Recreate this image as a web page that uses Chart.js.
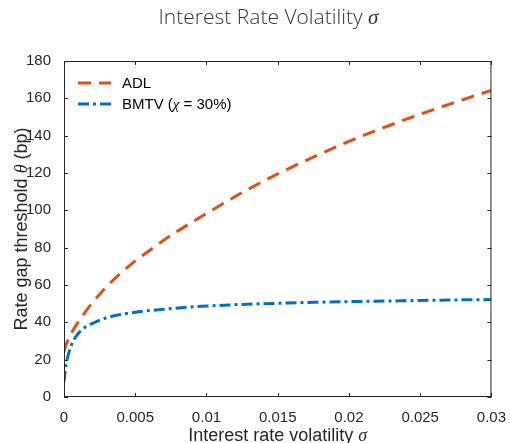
<!DOCTYPE html>
<html>
<head>
<meta charset="utf-8">
<script src="https://cdn.jsdelivr.net/npm/chart.js@4.4.0/dist/chart.umd.min.js"></script>
<style>
  html, body { margin: 0; padding: 0; background: #fff; }
  #wrap { width: 510px; height: 443px; }
</style>
</head>
<body>
<div id="wrap"><canvas id="grafico" width="510" height="443"></canvas></div>
<script>
// valores
const sigma = [0, 0.0001, 0.0002, 0.0005, 0.001, 0.0015, 0.002, 0.003, 0.004, 0.005, 0.006, 0.007,
  0.008, 0.01, 0.0125, 0.015, 0.0175, 0.02, 0.0225, 0.025, 0.0275, 0.03];
const adl = [24, 27, 29, 34, 40.2, 45.6, 50.6, 59.2, 66.4, 72.9, 78.5, 84,
  89, 98.3, 109.5, 119.5, 128.5, 137, 144.5, 151.5, 158, 164.3];
const bmtv = [8, 15, 19.5, 27.5, 34, 37.5, 39.5, 42.5, 44.2, 45.4, 46.3, 47,
  47.7, 48.7, 49.6, 50.2, 50.7, 51.1, 51.4, 51.7, 52, 52.2];
const xTicks = [0, 0.005, 0.01, 0.015, 0.02, 0.025, 0.03];
const yTicks = [0, 20, 40, 60, 80, 100, 120, 140, 160, 180];
const seriesNames = ['ADL', 'BMTV'];

const naranja = '#D95319';
const azul = '#0072BD';
const ejeColor = '#262626';
const dashADL = [13, 8];
const dashBMTV = [11, 4, 3, 4];

const sans = '"Liberation Sans", Arial, sans-serif';
const serif = '"Liberation Serif", "DejaVu Serif", serif';

function textoMixto(ctx, partes, cx, cy) {
  let w = 0;
  partes.forEach(p => { ctx.font = p.font; w += ctx.measureText(p.text).width; });
  let xx = cx - w / 2;
  partes.forEach(p => {
    ctx.font = p.font;
    ctx.fillText(p.text, xx, cy);
    xx += ctx.measureText(p.text).width;
  });
}

function textoIzq(ctx, partes, x0, cy) {
  let xx = x0;
  partes.forEach(p => {
    ctx.font = p.font;
    ctx.fillText(p.text, xx, cy);
    xx += ctx.measureText(p.text).width;
  });
}

const extras = {
  id: 'extras',
  afterDraw(chart) {
    const { ctx, chartArea: a, scales: { x, y } } = chart;
    ctx.save();

    // caja y marcas hacia dentro
    ctx.strokeStyle = ejeColor;
    ctx.lineWidth = 1;
    ctx.setLineDash([]);
    ctx.strokeRect(a.left + 0.5, a.top + 0.5, a.right - a.left - 1, a.bottom - a.top - 1);
    const tl = 4;
    ctx.beginPath();
    xTicks.forEach(v => {
      const px = Math.round(x.getPixelForValue(v)) + 0.5;
      ctx.moveTo(px, a.bottom); ctx.lineTo(px, a.bottom - tl);
      ctx.moveTo(px, a.top); ctx.lineTo(px, a.top + tl);
    });
    yTicks.forEach(v => {
      const py = Math.round(y.getPixelForValue(v)) + 0.5;
      ctx.moveTo(a.left, py); ctx.lineTo(a.left + tl, py);
      ctx.moveTo(a.right, py); ctx.lineTo(a.right - tl, py);
    });
    ctx.stroke();

    // titulo
    ctx.fillStyle = '#333333';
    ctx.textAlign = 'left';
    ctx.textBaseline = 'alphabetic';
    textoMixto(ctx, [
      { text: 'Interest Rate Volatility ', font: '300 21px "Open Sans"' },
      { text: 'σ', font: 'italic 21px ' + serif }
    ], 268.5, 24);

    // titulos de ejes
    ctx.fillStyle = ejeColor;
    textoMixto(ctx, [
      { text: 'Interest rate volatility ', font: '18px ' + sans },
      { text: 'σ', font: 'italic 18px ' + serif }
    ], (a.left + a.right) / 2, 441);

    ctx.save();
    ctx.translate(26.5, (a.top + a.bottom) / 2);
    ctx.rotate(-Math.PI / 2);
    textoMixto(ctx, [
      { text: 'Rate gap threshold ', font: '18px ' + sans },
      { text: 'θ', font: 'italic 18px ' + serif },
      { text: ' (bp)', font: '18px ' + sans }
    ], 0, 0);
    ctx.restore();

    // leyenda
    const filas = [
      { color: naranja, dash: dashADL, y: 83,
        partes: [{ text: seriesNames[0], font: '15px ' + sans }] },
      { color: azul, dash: dashBMTV, y: 104,
        partes: [
          { text: seriesNames[1] + ' (', font: '15px ' + sans },
          { text: 'χ', font: 'italic 15px ' + serif },
          { text: ' = 30%)', font: '15px ' + sans }
        ] }
    ];
    filas.forEach(f => {
      ctx.strokeStyle = f.color;
      ctx.lineWidth = 3;
      ctx.setLineDash(f.dash);
      ctx.beginPath();
      ctx.moveTo(78, f.y); ctx.lineTo(111, f.y);
      ctx.stroke();
      ctx.setLineDash([]);
      ctx.fillStyle = '#000000';
      ctx.textBaseline = 'middle';
      textoIzq(ctx, f.partes, 122, f.y + 1);
    });

    ctx.restore();
  }
};

const ctx = document.getElementById('grafico').getContext('2d');
new Chart(ctx, {
  type: 'line',
  data: {
    datasets: [{
      label: seriesNames[0],
      data: sigma.map((s, i) => ({ x: s, y: adl[i] })),
      borderColor: naranja,
      borderWidth: 3,
      borderDash: dashADL,
      pointRadius: 0,
      fill: false,
      cubicInterpolationMode: 'monotone'
    }, {
      label: seriesNames[1],
      data: sigma.map((s, i) => ({ x: s, y: bmtv[i] })),
      borderColor: azul,
      borderWidth: 3,
      borderDash: dashBMTV,
      pointRadius: 0,
      fill: false,
      cubicInterpolationMode: 'monotone'
    }]
  },
  options: {
    responsive: false,
    animation: false,
    devicePixelRatio: 1,
    layout: { padding: { top: 61, right: 18, left: 0, bottom: 0 } },
    plugins: {
      legend: { display: false },
      title: { display: false },
      tooltip: { enabled: false }
    },
    scales: {
      x: {
        type: 'linear',
        min: 0,
        max: 0.03,
        grid: { display: false },
        border: { display: false },
        afterBuildTicks: s => { s.ticks = xTicks.map(v => ({ value: v })); },
        afterFit: s => { s.height = 46; },
        ticks: {
          padding: 4,
          maxRotation: 0,
          autoSkip: false,
          color: ejeColor,
          font: { family: sans, size: 15 },
          callback: v => String(+(+v).toFixed(3))
        }
      },
      y: {
        min: 0,
        max: 180,
        grid: { display: false },
        border: { display: false },
        afterBuildTicks: s => { s.ticks = yTicks.map(v => ({ value: v })); },
        afterFit: s => { s.width = 64; },
        ticks: {
          padding: 5,
          color: ejeColor,
          font: { family: sans, size: 15 }
        }
      }
    }
  },
  plugins: [extras]
});
</script>
</body>
</html>
